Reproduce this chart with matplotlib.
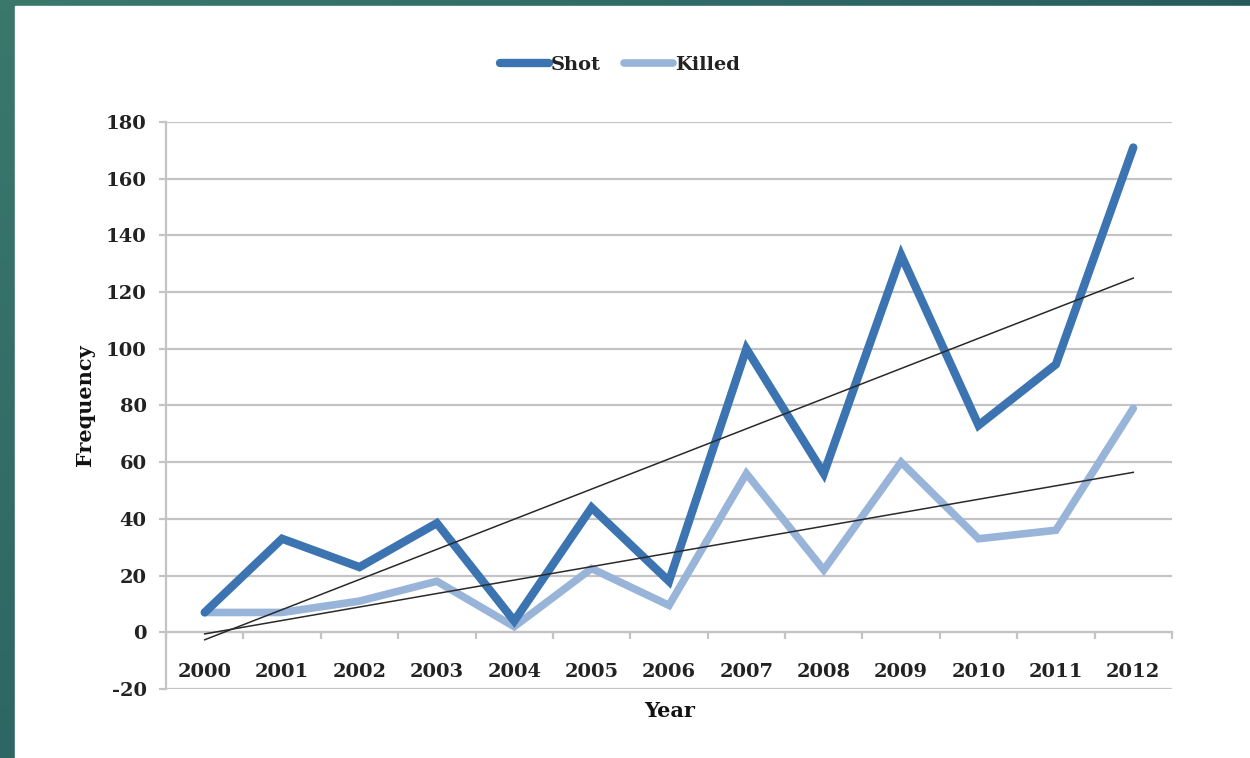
import matplotlib

matplotlib.use("Agg")
import matplotlib.pyplot as plt
import numpy as np
from matplotlib.colors import LinearSegmentedColormap
from matplotlib.patches import Rectangle

years = ["2000", "2001", "2002", "2003", "2004", "2005", "2006",
         "2007", "2008", "2009", "2010", "2011", "2012"]
shot = [7, 33, 23, 38.5, 4, 44, 18, 100, 56, 133, 73, 94.5, 171]
killed = [7, 7, 11, 18, 2, 22.5, 9.5, 56, 22, 60, 33, 36, 79]

SHOT_C = "#3b74b1"
KILLED_C = "#98b4d8"
GRID_C = "#c4c4c4"
FONT = "DejaVu Serif"

plt.rcParams["axes.unicode_minus"] = False

fig = plt.figure(figsize=(12.5, 7.58), dpi=100)

# teal slide frame (gradient), white panel on top
bg = fig.add_axes([0, 0, 1, 1], zorder=-10)
cmap = LinearSegmentedColormap.from_list("frame", ["#3a786c", "#2a6262", "#143d4b"])
gx, gy = np.meshgrid(np.linspace(0, 1, 200), np.linspace(0, 1, 120))
bg.imshow(0.6 * gx + 0.4 * gy, cmap=cmap, aspect="auto", extent=[0, 1, 0, 1],
          origin="upper")
bg.add_patch(Rectangle((15 / 1250, 0), 1, 1 - 6 / 758, color="white"))
bg.set_xlim(0, 1)
bg.set_ylim(0, 1)
bg.axis("off")

ax = fig.add_axes([166 / 1250, 69 / 758, 1006 / 1250, 567 / 758])
ax.set_facecolor("white")
x = np.arange(len(years))

ax.plot(x, shot, color=SHOT_C, lw=6.0, solid_joinstyle="miter",
        solid_capstyle="round", label="Shot", zorder=3)
ax.plot(x, killed, color=KILLED_C, lw=5.5, solid_joinstyle="miter",
        solid_capstyle="round", label="Killed", zorder=2)

# linear trend lines
for series in (shot, killed):
    k, b = np.polyfit(x, series, 1)
    ax.plot(x[[0, -1]], k * x[[0, -1]] + b, color="#2a2a2a", lw=1.1, zorder=4)

ax.set_xlim(-0.5, len(years) - 0.5)
ax.set_ylim(-20, 180)
ax.set_yticks(np.arange(-20, 181, 20))
ax.grid(axis="y", color=GRID_C, lw=1.6)
ax.set_axisbelow(True)

for s in ("top", "right"):
    ax.spines[s].set_visible(False)
ax.spines["left"].set_color(GRID_C)
ax.spines["left"].set_linewidth(1.6)
ax.spines["bottom"].set_position(("data", 0))
ax.spines["bottom"].set_color(GRID_C)
ax.spines["bottom"].set_linewidth(1.6)

# category boundaries as ticks, labels centred on categories
ax.set_xticks(np.arange(-0.5, len(years), 1.0))
ax.set_xticklabels([])
ax.set_xticks(x, minor=True)
ax.set_xticklabels(years, minor=True)
ax.tick_params(axis="x", which="major", direction="out", length=5,
               color=GRID_C, width=1.6)
ax.tick_params(axis="x", which="minor", length=0, pad=22)
ax.tick_params(axis="y", direction="out", length=5, color=GRID_C, width=1.6,
               pad=9)
for lab in ax.get_xticklabels(minor=True) + ax.get_yticklabels():
    lab.set_fontfamily(FONT)
    lab.set_fontweight("bold")
    lab.set_fontsize(14)
    lab.set_color("#222222")

ax.set_ylabel("Frequency", fontfamily=FONT, fontweight="bold", fontsize=15,
              color="#111111", labelpad=8)
fig.text(670 / 1250, 1 - 711 / 758, "Year", ha="center", va="center",
         fontfamily=FONT, fontweight="bold", fontsize=15, color="#111111")

leg = fig.legend(loc="center", bbox_to_anchor=(620 / 1250, 1 - 65 / 758),
                 ncol=2, frameon=False, handlelength=2.5, handletextpad=0.1,
                 columnspacing=1.2,
                 prop={"family": FONT, "weight": "bold", "size": 14})
for t in leg.get_texts():
    t.set_color("#222222")

fig.savefig("out.png", dpi=100)
